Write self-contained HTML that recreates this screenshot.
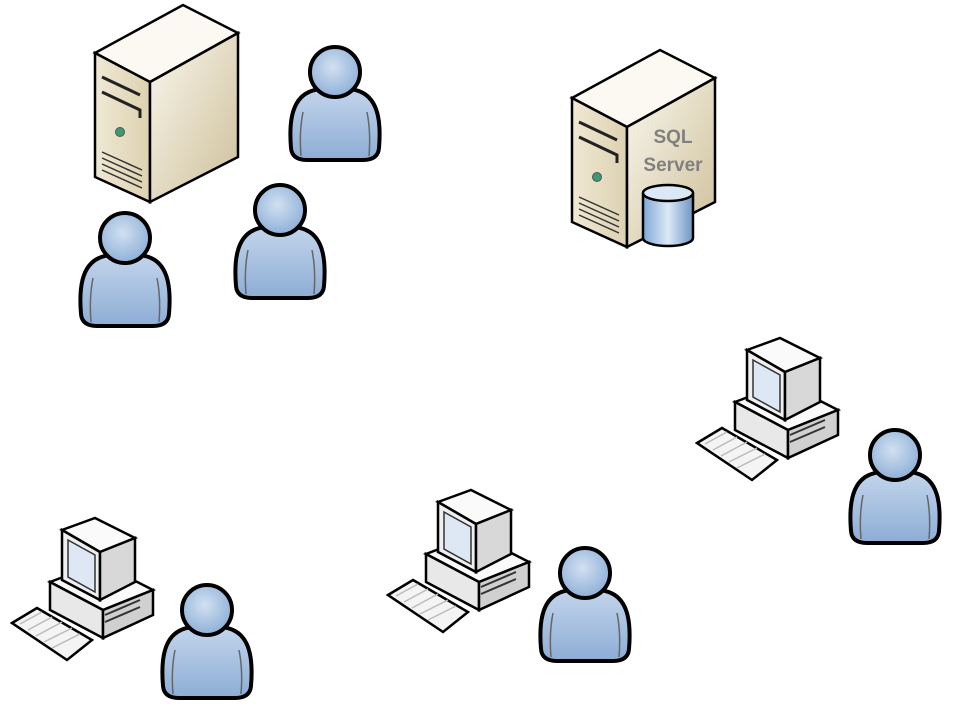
<!DOCTYPE html>
<html><head><meta charset="utf-8"><style>html,body{margin:0;padding:0;background:#fff}svg{display:block}</style></head>
<body>
<svg width="953" height="707" viewBox="0 0 953 707" xmlns="http://www.w3.org/2000/svg">
<defs>
<linearGradient id="pg" x1="0" y1="0" x2="0" y2="1"><stop offset="0" stop-color="#c3d5ec"/><stop offset="1" stop-color="#8dadd5"/></linearGradient>
<radialGradient id="hg" cx="0.45" cy="0.4" r="0.6"><stop offset="0" stop-color="#d2e0f1"/><stop offset="1" stop-color="#8eb0d8"/></radialGradient>
<linearGradient id="sf" x1="0" y1="0" x2="1" y2="0"><stop offset="0" stop-color="#efe8d4"/><stop offset="1" stop-color="#ddd1b0"/></linearGradient>
<linearGradient id="ss" x1="0" y1="0" x2="1" y2="1"><stop offset="0" stop-color="#faf7ee"/><stop offset="1" stop-color="#cdbf98"/></linearGradient>
<linearGradient id="cy" x1="0" y1="0" x2="1" y2="0"><stop offset="0" stop-color="#7fa7d4"/><stop offset="0.5" stop-color="#dce9f6"/><stop offset="1" stop-color="#6d95c4"/></linearGradient>
<g id="person">
<path d="M-26,20 C-44,28 -46,52 -44,76 Q-43,88 -28,88 L28,88 Q43,88 44,76 C46,52 44,28 26,20 C16,15 -16,15 -26,20 Z" fill="url(#pg)" stroke="#000" stroke-width="4"/>
<path d="M-32,40 Q-36,60 -34,84 M32,40 Q36,60 34,84" fill="none" stroke="#666" stroke-width="1.5"/>
<circle cx="0" cy="0" r="25" fill="url(#hg)" stroke="#000" stroke-width="4"/>
</g>
<g id="server">
<polygon points="95,53 183,5 238,33 150,82" fill="#fbf9f2" stroke="#000" stroke-width="2.5"/>
<polygon points="95,53 150,82 150,202 95,177" fill="url(#sf)" stroke="#000" stroke-width="2.5"/>
<polygon points="150,82 238,33 238,157 150,202" fill="url(#ss)" stroke="#000" stroke-width="2.5"/>
<path d="M102,77 L140,95 M102,92 L140,110 L140,118" fill="none" stroke="#222" stroke-width="3"/>
<circle cx="120" cy="132" r="4.5" fill="#3a9a70" stroke="#555" stroke-width="1"/>
<path d="M102,152 L142,170 M102,158 L142,176 M102,164 L142,182 M102,170 L142,188" stroke="#333" stroke-width="1.5"/>
</g>
<g id="pc">
<polygon points="12,623 37,608 92,640 67,660" fill="#f4f4f4" stroke="#000" stroke-width="2.5"/>
<path d="M20,624 L42,612 M28,630 L52,617 M36,636 L62,622 M44,642 L72,628 M52,648 L80,634" stroke="#bbb" stroke-width="1.5"/>
<polygon points="50,582 100,563 153,590 103,610" fill="#fafafa" stroke="#000" stroke-width="2.5"/>
<polygon points="50,582 103,610 103,638 50,610" fill="#e8e8e8" stroke="#000" stroke-width="2.5"/>
<polygon points="103,610 153,590 153,615 103,638" fill="#d0d0d0" stroke="#000" stroke-width="2.5"/>
<polygon points="62,530 95,518 135,538 100,552" fill="#fafafa" stroke="#000" stroke-width="2.5"/>
<polygon points="62,530 100,552 100,600 62,580" fill="#efefef" stroke="#000" stroke-width="2.5"/>
<polygon points="100,552 135,538 135,582 100,600" fill="#d8d8d8" stroke="#000" stroke-width="2.5"/>
<polygon points="68,540 95,555 95,592 68,577" fill="#dde8f4" stroke="#333" stroke-width="1.5"/>
<path d="M105,615 L140,600 M105,622 L140,607" stroke="#333" stroke-width="2"/>
</g>
</defs>
<use href="#server"/>
<use href="#server" transform="translate(477,45)"/>
<g>
<path d="M643,193 L643,238 A25,8 0 0 0 693,238 L693,193" fill="url(#cy)" stroke="#000" stroke-width="2.5"/>
<ellipse cx="668" cy="193" rx="25" ry="8" fill="#dbe8f5" stroke="#000" stroke-width="2.5"/>
</g>
<text x="673" y="143" font-family="Liberation Sans, sans-serif" font-size="19" font-weight="bold" fill="#808080" text-anchor="middle">SQL</text>
<text x="673" y="171" font-family="Liberation Sans, sans-serif" font-size="19" font-weight="bold" fill="#808080" text-anchor="middle">Server</text>
<use href="#person" transform="translate(335,72)"/>
<use href="#person" transform="translate(280,210)"/>
<use href="#person" transform="translate(125,238)"/>
<use href="#pc"/>
<use href="#pc" transform="translate(376,-28)"/>
<use href="#pc" transform="translate(685,-180)"/>
<use href="#person" transform="translate(207,610)"/>
<use href="#person" transform="translate(585,573)"/>
<use href="#person" transform="translate(895,455)"/>
</svg>
</body></html>
